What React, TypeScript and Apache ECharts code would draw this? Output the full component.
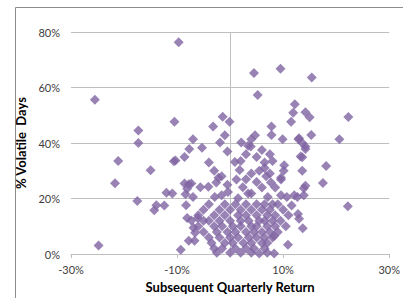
import React, { useEffect, useRef } from "react";
import * as echarts from "echarts";

// Subsequent quarterly return (%) and % volatile days (%)
const upperReturns = [-9.7, -25.5, -17.3, -17.3, -10.5, -7.0, 4.5, 9.5, 15.4, 5.2, 12.2, 11.9, 11.5, 14.2, 15.0, 22.3, -3.2, -1.4, -0.1, -1.0, -1.9, 2.1, 4.0, 4.7, 7.8, 7.8, 9.9, 12.9, 15.3, 20.6, 14.2, 13.6, 18.1, 13.6, 17.5, 13.9, 22.2, 13.7, 13.0, 12.8, 11.6, 10.7, 10.2, 10.1, 9.6, 8.3, 5.5, 10.9, 8.3];
const upperVolatile = [76.3, 55.6, 44.5, 40.0, 47.7, 41.4, 65.2, 66.8, 63.6, 57.3, 54.0, 50.9, 47.7, 51.1, 49.3, 49.4, 46.0, 49.5, 47.7, 42.8, 40.2, 40.2, 41.4, 42.8, 46.0, 42.9, 41.4, 41.4, 42.9, 41.4, 37.9, 34.9, 31.7, 30.0, 25.6, 23.7, 17.2, 9.3, 12.7, 14.4, 17.5, 20.6, 32.0, 30.0, 26.9, 0.2, 0.2, 3.4, 6.5];

const leftReturns = [-21.1, -15.0, -21.7, -12.0, -10.6, -17.5, -13.9, -14.3, -12.4, -24.8, -8.6, -7.7, -8.6, -7.3, -8.1, -8.4, -7.0, -8.3, -8.1, -7.3, -6.9, -6.6, -7.8, -6.7, -9.3, -6.1, -5.3, 3.4, 13.0, 13.6, 14.2, 3.9];
const leftVolatile = [33.5, 30.2, 25.5, 22.1, 33.4, 19.1, 17.6, 15.8, 17.5, 3.1, 35.0, 37.9, 25.4, 25.4, 23.5, 21.6, 20.6, 17.6, 13.0, 12.1, 9.5, 7.7, 4.8, 4.8, 1.6, 13.0, 38.3, 39.0, 41.7, 40.0, 38.8, 38.8];

const midReturns = [-10.3, -2.2, -2.6, -1.6, -7.8, -5.6, -4.1, 1.2, 1.8, 0.9, 2.4, -0.4, -1.6, -2.9, 3.4, 1.5, -10.9, 5.0, 6.5, 5.5, 6.8, 5.0, 6.0, 13.3, 9.6, 7.7, 14.2, 4.0, 7.1, 9.6, 12.1, 12.7, 13.9, 6.0, 7.5, 8.0, 3.0, -0.5, 2.0, -4.0, -3.0, 6.5, 7.5, 4.0, 8.5, 3.0, -0.5];
const midVolatile = [33.7, 27.5, 25.8, 28.0, 25.2, 24.1, 24.3, 26.9, 30.3, 33.2, 24.1, 22.4, 21.2, 20.6, 21.8, 20.1, 21.8, 35.0, 33.0, 30.0, 28.0, 26.0, 24.0, 35.2, 27.5, 25.8, 24.6, 21.8, 20.6, 21.2, 21.2, 20.6, 21.2, 37.5, 36.0, 33.5, 36.0, 37.0, 33.5, 33.0, 30.0, 31.0, 29.0, 29.0, 24.0, 27.0, 25.0];

const lowReturns = [-4, -1, 1, 3, 5, 6.5, 8, 9, -5, -2, 0, 2, 4, 6, 7.5, 10, -6, -3, -1, 1.5, 3, 5, 7, 8.5, 11, -5, -4, -2, 0, 2, 3.5, 5.5, 6.5, 8, 9.5, -6, -3, -1.5, 0.5, 2, 4, 5, 7, 8.5, 10.5, -5, -2.5, -0.5, 1, 3, 4.5, 6, 7.5, 9, -4, -2, 0, 1.5, 3.5, 5, 6.5, 8, -3.5, -1, 0.5, 2.5, 4, 6, 7, -3, -1.5, 1, 3, 4.5, 6.5, -2.5, 0, 2, 4, 7];
const lowVolatile = [18, 18, 18, 18, 18, 18, 18, 18, 16, 16, 16, 16, 16, 16, 16, 16, 14, 14, 14, 14, 14, 14, 14, 14, 14, 12, 12, 12, 12, 12, 12, 12, 12, 12, 12, 10, 10, 10, 10, 10, 10, 10, 10, 10, 10, 8, 8, 8, 8, 8, 8, 8, 8, 8, 6, 6, 6, 6, 6, 6, 6, 6, 4, 4, 4, 4, 4, 4, 4, 2, 2, 2, 2, 2, 2, 0.5, 0.5, 0.5, 0.5, 0.5];

const xTickLabels = [-30, -10, 10, 30];

const returns = [...upperReturns, ...leftReturns, ...midReturns, ...lowReturns];
const volatile = [...upperVolatile, ...leftVolatile, ...midVolatile, ...lowVolatile];

const FONT = "Lato, 'Liberation Sans', sans-serif";

export default function App() {
  const ref = useRef<HTMLDivElement>(null);
  useEffect(() => {
    if (!ref.current) return;
    const chart = echarts.init(ref.current, null, { renderer: "svg" });
    const data = returns.map((x, i) => [x, volatile[i]]);
    chart.setOption({
      animation: false,
      backgroundColor: "#ffffff",
      grid: { left: 71, right: 10, top: 32, bottom: 31, containLabel: false },
      graphic: [
        { type: "line", shape: { x1: 15.5, y1: 7.5, x2: 403, y2: 7.5 }, style: { stroke: "#8c8c8c", lineWidth: 1 } },
        { type: "line", shape: { x1: 15.5, y1: 7.5, x2: 15.5, y2: 298 }, style: { stroke: "#8c8c8c", lineWidth: 1 } },
      ],
      xAxis: {
        type: "value",
        min: -30,
        max: 30,
        interval: 10,
        name: "Subsequent Quarterly Return",
        nameLocation: "middle",
        nameGap: 23,
        nameTextStyle: { fontFamily: FONT, fontWeight: "bold", fontSize: 13, color: "#000" },
        axisLine: { show: true, onZero: false, lineStyle: { color: "#bfbfbf" } },
        axisTick: { show: true, customValues: xTickLabels, length: 4, lineStyle: { color: "#bfbfbf" } },
        axisLabel: {
          customValues: xTickLabels,
          margin: 10,
          fontFamily: FONT,
          fontSize: 11,
          color: "#404040",
          formatter: (v: number) => `${v}%`,
        },
        splitLine: { show: false },
      },
      yAxis: {
        type: "value",
        min: 0,
        max: 80,
        interval: 20,
        name: "% Volatile  Days",
        nameLocation: "middle",
        nameGap: 36,
        nameTextStyle: { fontFamily: FONT, fontWeight: "bold", fontSize: 13, color: "#000" },
        axisLine: { show: false },
        axisTick: { show: false },
        axisLabel: {
          margin: 11,
          fontFamily: FONT,
          fontSize: 11,
          color: "#404040",
          formatter: (v: number) => `${v}%`,
        },
        splitLine: { show: true, lineStyle: { color: "#bfbfbf", width: 1 } },
      },
      series: [
        {
          type: "scatter",
          data,
          symbol: "diamond",
          symbolSize: 10,
          itemStyle: { color: "#8064a2" },
          markLine: {
            silent: true,
            symbol: "none",
            label: { show: false },
            lineStyle: { color: "#bfbfbf", type: "solid", width: 1 },
            data: [{ xAxis: 0 }],
            z: 1,
          },
        },
      ],
    });
    return () => chart.dispose();
  }, []);
  return <div ref={ref} style={{ width: 403, height: 298, position: "absolute", left: 0, top: 0 }} />;
}
